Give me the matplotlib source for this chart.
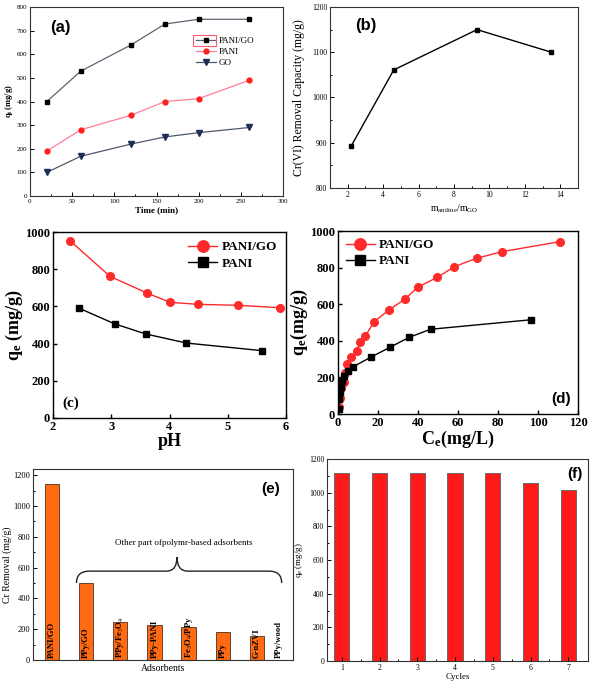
import numpy as np
import matplotlib
matplotlib.use("Agg")
import matplotlib.pyplot as plt
from matplotlib.path import Path
from matplotlib.patches import PathPatch, Rectangle

plt.rcParams["mathtext.fontset"] = "custom"
plt.rcParams["mathtext.rm"] = "Liberation Serif"
plt.rcParams["mathtext.it"] = "Liberation Serif:italic"
plt.rcParams["mathtext.bf"] = "Liberation Serif:bold"

# (a) kinetics
time_min = [20, 60, 120, 160, 200, 260]
qt_pani_go = [400, 528, 640, 728, 748, 748]
qt_pani = [190, 280, 342, 400, 412, 490]
qt_go = [100, 168, 220, 250, 268, 290]

# (b) aniline / GO ratio
ratio = [2.2, 4.6, 9.3, 13.5]
capacity = [893, 1061, 1150, 1100]

# (c) pH effect
ph_pani_go = [2.3, 2.98, 3.62, 4.01, 4.49, 5.18, 5.89]
qe_ph_pani_go = [951, 761, 671, 622, 611, 606, 593]
ph_pani = [2.45, 3.06, 3.59, 4.29, 5.59]
qe_ph_pani = [590, 506, 452, 403, 362]

# (d) isotherms
ce_pani_go = [0.5, 1.0, 1.5, 2.2, 3.2, 3.7, 4.6, 6.3, 9.7, 10.9, 13.6, 18.2,
              25.4, 33.5, 40.0, 49.7, 58.2, 69.3, 82.0, 111.0]
qe_pani_go = [40, 90, 140, 180, 177, 222, 273, 310, 344, 392, 426, 505,
              568, 628, 694, 747, 805, 851, 887, 942]
ce_pani = [0.4, 0.7, 1.0, 1.4, 2.0, 3.0, 5.0, 7.7, 16.5, 25.9, 35.6, 46.3, 96.5]
qe_pani = [30, 80, 120, 150, 180, 205, 235, 259, 311, 364, 419, 463, 515]

# (e) comparison
adsorbents = ["PANI/GO", "PPy/GO", "PPy/Fe$_3$O$_4$", "PPy-PANI",
              "Fe$_3$O$_4$/PPy", "PPy", "G-nZVI", "PPy/wood"]
cr_removal = [1145, 500, 245, 227, 212, 180, 158, 0]

# (f) reuse
cycles = ["1", "2", "3", "4", "5", "6", "7"]
qe_cycles = [1115, 1115, 1115, 1115, 1115, 1055, 1018]

W, H = 591, 686
fig = plt.figure(figsize=(W / 100, H / 100), dpi=100)


def box(l, t, r, b):
    return fig.add_axes([l / W, 1 - b / H, (r - l) / W, (b - t) / H])


serif = "Liberation Serif"
sans = "Liberation Sans"


def small_style(ax, size=5.5):
    ax.tick_params(which="both", direction="in", labelsize=size, width=0.7, pad=2)
    ax.tick_params(which="minor", length=1.5)
    ax.tick_params(which="major", length=3)
    for lab in ax.get_xticklabels() + ax.get_yticklabels():
        lab.set_family(serif)
    for s in ax.spines.values():
        s.set_linewidth(0.8)
        s.set_color("#333333")


# ---- (a)
ax = box(30, 7, 283, 196)
ax.plot(time_min, qt_pani_go, "-s", color="#5b6470", mfc="black", mec="black", ms=3.5, lw=0.9, label="PANI/GO")
ax.plot(time_min, qt_pani, "-o", color="#ff7f98", mfc="#ff2020", mec="#ff2020", ms=3.5, lw=0.9, label="PANI")
ax.plot(time_min, qt_go, "-v", color="#4f596c", mfc="#1f2d5a", mec="#1f2d5a", ms=4, lw=0.9, label="GO")
ax.set_xlim(0, 300)
ax.set_ylim(0, 800)
ax.set_xticks(range(0, 301, 50))
ax.set_xticks(range(25, 300, 50), minor=True)
ax.set_yticks(range(0, 801, 100))
small_style(ax, 5)
ax.set_xlabel("Time (min)", family=serif, fontsize=6.5, fontweight="bold", labelpad=2)
ax.set_ylabel("q$_\\mathbf{t}$ (mg/g)", family=serif, fontsize=6, fontweight="bold", labelpad=1)
leg = ax.legend(loc="upper left", bbox_to_anchor=(0.63, 0.875), frameon=False,
                prop={"family": serif, "size": 6.5}, handlelength=2.2,
                labelspacing=0.3, handletextpad=0.3, borderpad=0.2)
ax.text(0.08, 0.93, "(a)", transform=ax.transAxes, family=sans, fontweight="bold",
        fontsize=12, va="top")
fig.patches.append(Rectangle((193 / W, 1 - 46 / H), 23 / W, 11 / H, fill=False,
                             edgecolor="#ff5a6a", lw=0.8, transform=fig.transFigure))

# ---- (b)
ax = box(330, 7, 578, 188)
ax.plot(ratio, capacity, "-s", color="black", ms=3.5, lw=1.0)
ax.set_xlim(1, 15)
ax.set_ylim(800, 1200)
ax.set_xticks(range(2, 15, 2))
ax.set_xticks(range(1, 16, 1), minor=True)
ax.set_yticks(range(800, 1201, 100))
ax.set_yticks(range(850, 1200, 100), minor=True)
small_style(ax)
ax.set_xlabel("m$_\\mathrm{aniline}$/m$_\\mathrm{GO}$", family=serif, fontsize=7, labelpad=3)
ax.set_ylabel("Cr(VI) Removal Capacity (mg/g)", family=serif, fontsize=8.5, labelpad=5)
ax.text(0.1, 0.94, "(b)", transform=ax.transAxes, family=sans, fontweight="bold",
        fontsize=12, va="top")

# ---- (c)
ax = box(53, 232, 286, 418)
ax.plot(ph_pani_go, qe_ph_pani_go, "-o", color="#ff2a2a", ms=5.5, lw=1.0, label="PANI/GO")
ax.plot(ph_pani, qe_ph_pani, "-s", color="black", ms=4.5, lw=1.0, label="PANI")
ax.set_xlim(2, 6)
ax.set_ylim(0, 1000)
ax.set_xticks(range(2, 7))
ax.set_yticks(range(0, 1001, 200))
ax.tick_params(direction="in", labelsize=9, width=1.0, length=3, pad=2)
for lab in ax.get_xticklabels() + ax.get_yticklabels():
    lab.set_family(serif)
    lab.set_fontweight("bold")
for s in ax.spines.values():
    s.set_linewidth(1.0)
ax.set_xlabel("pH", family=serif, fontsize=13, fontweight="bold", labelpad=0)
ax.set_ylabel("q$_\\mathbf{e}$ (mg/g)", family=serif, fontsize=13, fontweight="bold", labelpad=0)
ax.legend(loc="upper right", frameon=False, prop={"family": serif, "size": 9.5, "weight": "bold"},
          handlelength=2.2, handletextpad=0.3, labelspacing=0.3, borderaxespad=0.3,
          markerscale=1.5)
ax.text(0.04, 0.06, "(c)", transform=ax.transAxes, family=serif, fontweight="bold", fontsize=11)

# ---- (d)
ax = box(338, 231, 578, 414)
ax.plot(ce_pani_go, qe_pani_go, "-o", color="#ff2a2a", ms=5.5, lw=1.0, label="PANI/GO")
ax.plot(ce_pani, qe_pani, "-s", color="black", ms=4.5, lw=1.0, label="PANI")
ax.set_xlim(0, 120)
ax.set_ylim(0, 1000)
ax.set_xticks(range(0, 121, 20))
ax.set_yticks(range(0, 1001, 200))
ax.tick_params(direction="in", labelsize=9, width=1.0, length=3, pad=2)
for lab in ax.get_xticklabels() + ax.get_yticklabels():
    lab.set_family(serif)
    lab.set_fontweight("bold")
for s in ax.spines.values():
    s.set_linewidth(1.0)
ax.set_xlabel("C$_\\mathbf{e}$(mg/L)", family=serif, fontsize=13, fontweight="bold", labelpad=0)
ax.set_ylabel("q$_\\mathbf{e}$(mg/g)", family=serif, fontsize=13, fontweight="bold", labelpad=0)
ax.legend(loc="upper left", frameon=False, prop={"family": serif, "size": 9.5, "weight": "bold"},
          handlelength=2.2, handletextpad=0.3, labelspacing=0.3, borderaxespad=0.2,
          markerscale=1.5)
ax.text(0.97, 0.06, "(d)", transform=ax.transAxes, family=sans, fontweight="bold",
        fontsize=11, ha="right")

# ---- (e)
ax = box(33, 469, 293, 660)
xe = np.arange(1, len(adsorbents) + 1)
ax.bar(xe, cr_removal, width=0.42, color="#ff6a13", edgecolor="#4a3020", lw=0.6)
for i, name in zip(xe, adsorbents):
    xi = i - 0.35 if name == "PPy/wood" else i
    ax.text(xi, 12, name, rotation=90, ha="center", va="bottom", family=serif,
            fontsize=6.2, fontweight="bold", color="black")
ax.set_xlim(0.45, 8.05)
ax.set_ylim(0, 1240)
ax.set_xticks([])
ax.set_yticks(range(0, 1201, 200))
ax.set_yticks(range(100, 1200, 200), minor=True)
small_style(ax, 6)
ax.set_xlabel("Adsorbents", family=serif, fontsize=7, labelpad=3)
ax.set_ylabel("Cr Removal (mg/g)", family=serif, fontsize=7, labelpad=1)
brace = Path(
    [(1.72, 500), (1.72, 577), (2.1, 577), (4.35, 577), (4.66, 577), (4.66, 668),
     (4.66, 668), (4.66, 577), (4.97, 577), (7.35, 577), (7.72, 577), (7.72, 500)],
    [Path.MOVETO, Path.CURVE3, Path.CURVE3, Path.LINETO, Path.CURVE3, Path.CURVE3,
     Path.MOVETO, Path.CURVE3, Path.CURVE3, Path.LINETO, Path.CURVE3, Path.CURVE3])
ax.add_patch(PathPatch(brace, fill=False, lw=1.0, color="#222222"))
ax.text(4.85, 735, "Other part ofpolymr-based adsorbents", ha="center", va="bottom",
        family=serif, fontsize=6.5)
ax.text(0.95, 0.93, "(e)", transform=ax.transAxes, family=sans, fontweight="bold",
        fontsize=11, ha="right", va="top")

# ---- (f)
ax = box(327, 459, 588, 661)
xf = np.arange(1, len(cycles) + 1)
ax.bar(xf, qe_cycles, width=0.4, color="#ff1a1a", edgecolor="#556060", lw=0.6)
ax.set_xlim(0.61, 7.52)
ax.set_ylim(0, 1200)
ax.set_xticks(xf, cycles)
ax.set_xticks(xf[:-1] + 0.5, minor=True)
ax.set_yticks(range(0, 1201, 200))
ax.set_yticks(range(100, 1200, 100), minor=True)
small_style(ax)
ax.set_xlabel("Cycles", family=serif, fontsize=6.5, labelpad=1)
ax.set_ylabel("q$_\\mathrm{e}$ (mg/g)", family=serif, fontsize=6.5, labelpad=3)
ax.text(0.98, 0.96, "(f)", transform=ax.transAxes, family=sans, fontweight="bold",
        fontsize=11, ha="right", va="top")

fig.savefig("out.png", dpi=100)
